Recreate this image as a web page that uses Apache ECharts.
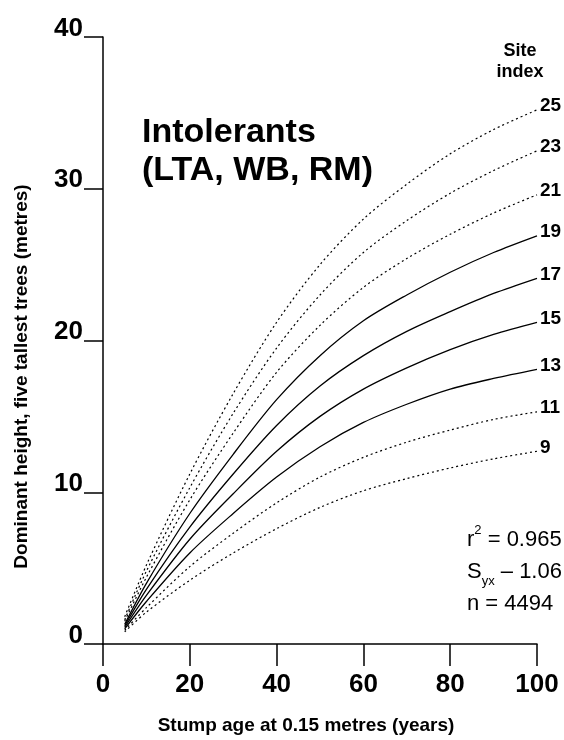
<!DOCTYPE html>
<html>
<head>
<meta charset="utf-8">
<script src="https://cdn.jsdelivr.net/npm/echarts@6/dist/echarts.min.js"></script>
<style>
  html, body { margin: 0; padding: 0; background: #fff; }
  #chart { width: 564px; height: 740px; }
</style>
</head>
<body>
<div id="chart"></div>
<script>
// stump age (years)
var ages = [5, 10, 20, 30, 40, 50, 60, 70, 80, 90, 100];
// dominant height (m) per site index curve
var site25 = [1.8, 5.2, 11.2, 16.5, 21.2, 25.0, 28.0, 30.3, 32.3, 33.9, 35.2];
var site23 = [1.6, 4.8, 10.3, 15.2, 19.5, 23.0, 25.8, 27.9, 29.7, 31.2, 32.5];
var site21 = [1.5, 4.4, 9.5, 13.9, 17.9, 21.0, 23.5, 25.4, 27.0, 28.4, 29.6];
var site19 = [1.3, 4.0, 8.6, 12.5, 16.1, 19.0, 21.3, 23.0, 24.5, 25.8, 26.9];
var site17 = [1.2, 3.6, 7.7, 11.2, 14.4, 17.0, 19.0, 20.6, 21.9, 23.1, 24.1];
var site15 = [1.1, 3.2, 6.9, 9.9, 12.7, 15.0, 16.8, 18.2, 19.4, 20.4, 21.2];
var site13 = [1.0, 2.8, 6.0, 8.6, 11.0, 13.0, 14.6, 15.8, 16.8, 17.5, 18.1];
var site11 = [0.9, 2.4, 5.1, 7.3, 9.3, 11.0, 12.3, 13.3, 14.1, 14.8, 15.3];
var site9  = [0.8, 2.1, 4.2, 6.0, 7.6, 9.0, 10.1, 10.9, 11.6, 12.2, 12.7];

var siteNames = ['25', '23', '21', '19', '17', '15', '13', '11', '9'];
var siteData = [site25, site23, site21, site19, site17, site15, site13, site11, site9];
var solidSites = ['19', '17', '15', '13'];

var xTicks = [0, 20, 40, 60, 80, 100];
var yTicks = [0, 10, 20, 30, 40];

var FONT = "'Liberation Sans', Arial, Helvetica, sans-serif";

var series = siteNames.map(function (name, i) {
  var solid = solidSites.indexOf(name) >= 0;
  return {
    name: name,
    type: 'line',
    smooth: 0.3,
    symbol: 'none',
    data: ages.map(function (a, j) { return [a, siteData[i][j]]; }),
    lineStyle: {
      color: '#000',
      width: solid ? 1.3 : 1.2,
      type: solid ? 'solid' : [2, 3]
    },
    endLabel: {
      show: true,
      formatter: name,
      distance: 3,
      offset: [0, -4],
      color: '#000',
      fontFamily: FONT,
      fontWeight: 'bold',
      fontSize: 19
    },
    emphasis: { disabled: true },
    z: 3
  };
});

var chart = echarts.init(document.getElementById('chart'));
chart.setOption({
  animation: false,
  backgroundColor: '#fff',
  grid: { left: 103, right: 27, top: 37, bottom: 93, containLabel: false },
  xAxis: {
    type: 'value',
    min: 0,
    max: 100,
    interval: 20,
    name: 'Stump age at 0.15 metres (years)',
    nameLocation: 'middle',
    nameGap: 72,
    nameTextStyle: {
      color: '#000', fontFamily: FONT, fontWeight: 'bold', fontSize: 19,
      padding: [0, 28, 0, 0]
    },
    axisLine: { show: true, lineStyle: { color: '#000', width: 1.5 } },
    axisTick: { show: true, inside: false, length: 22, lineStyle: { color: '#000', width: 1.5 } },
    axisLabel: {
      color: '#000', fontFamily: FONT, fontWeight: 'bold', fontSize: 26, margin: 28,
      formatter: function (v) { return xTicks.indexOf(v) >= 0 ? String(v) : ''; }
    },
    splitLine: { show: false }
  },
  yAxis: {
    type: 'value',
    min: 0,
    max: 40,
    interval: 10,
    name: 'Dominant height, five tallest trees (metres)',
    nameLocation: 'middle',
    nameGap: 72,
    nameTextStyle: {
      color: '#000', fontFamily: FONT, fontWeight: 'bold', fontSize: 19,
      padding: [0, 72, 0, 0]
    },
    axisLine: { show: true, lineStyle: { color: '#000', width: 1.5 } },
    axisTick: { show: true, inside: false, length: 19, lineStyle: { color: '#000', width: 1.5 } },
    axisLabel: {
      color: '#000', fontFamily: FONT, fontWeight: 'bold', fontSize: 26, margin: 20,
      verticalAlign: 'bottom', lineHeight: 17,
      formatter: function (v) { return yTicks.indexOf(v) >= 0 ? String(v) : ''; }
    },
    splitLine: { show: false }
  },
  graphic: [
    {
      type: 'text', left: 142, top: 114, z: 10,
      style: {
        text: 'Intolerants\n(LTA, WB, RM)',
        font: 'bold 34px ' + FONT,
        lineHeight: 38,
        fill: '#000'
      }
    },
    {
      type: 'text', x: 520, y: 41, z: 10,
      style: {
        text: 'Site\nindex',
        font: 'bold 18px ' + FONT,
        lineHeight: 21,
        align: 'center',
        fill: '#000'
      }
    },
    {
      type: 'text', left: 467, top: 524, z: 10,
      style: {
        text: 'r{sup|2} = 0.965\nS{sub|yx} \u2013 1.06\nn = 4494',
        font: '22px ' + FONT,
        lineHeight: 32,
        fill: '#000',
        rich: {
          sup: { fontSize: 13, fontFamily: FONT, verticalAlign: 'top', padding: [0, 0, 10, 0], lineHeight: 32 },
          sub: { fontSize: 13, fontFamily: FONT, verticalAlign: 'bottom', padding: [10, 0, 0, 0], lineHeight: 32 }
        }
      }
    }
  ],
  series: series
});
</script>
</body>
</html>
